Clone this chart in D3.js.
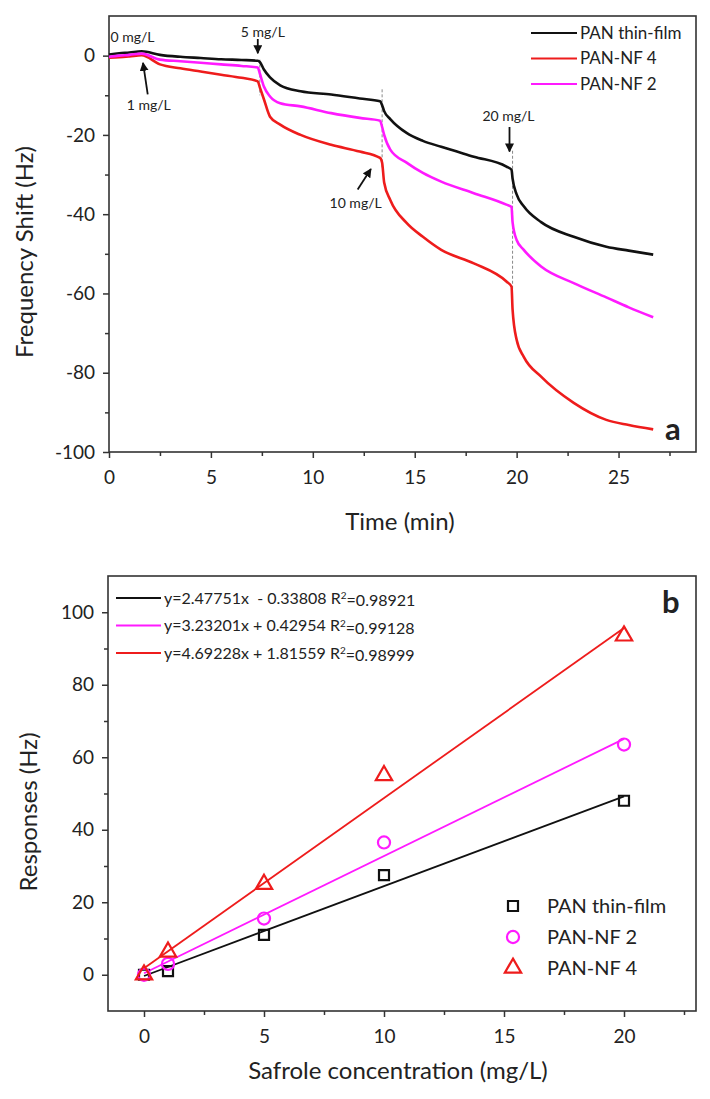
<!DOCTYPE html>
<html>
<head>
<meta charset="utf-8">
<script src="https://cdn.jsdelivr.net/npm/d3@7"></script>
<style>
  body { margin: 0; background: #fff; }
  text { font-family: Lato, "Open Sans", sans-serif; fill: #222; }
</style>
</head>
<body>
<svg id="fig" width="710" height="1099"></svg>
<script>
// ---- panel a: frequency shift vs time ----
var times = [0, 0.5, 1, 1.6, 2.5, 3.5, 4.5, 5.5, 6.5, 7.3, 7.4, 7.6, 7.9, 8.4, 9.4, 10.9, 12.3, 13.3,
             13.4, 13.5, 13.8, 14.6, 15.4, 16.3, 17.9, 19.5, 19.75, 19.8, 20.0, 20.35, 21.2, 22.8, 24.4, 25.5, 26.7];
var thinFilm = [0.3, 0.6, 0.8, 1.1, 0.2, -0.3, -0.6, -0.9, -1.1, -1.3, -1.6, -3.5, -5.5, -7.5, -9, -9.8, -10.8, -11.5,
                -12.5, -14, -16, -19.5, -21.5, -23, -25.5, -28, -28.8, -31, -35, -38, -42, -45.7, -48.2, -49.2, -50.2];
var nf4 = [-0.5, -0.4, -0.2, 0.1, -2.2, -3.2, -4, -4.8, -5.6, -6.5, -8, -11, -15.4, -17.4, -20, -22.5, -24.2, -25.8,
           -27, -32, -36.4, -42.2, -45.7, -49, -52.4, -57, -58.3, -64, -71.7, -76, -81, -87.6, -91.9, -93.2, -94.3];
var nf2 = [-0.3, 0, 0.2, 0.5, -1, -1.4, -1.8, -2.2, -2.6, -3, -4.5, -7.8, -10.3, -12, -12.8, -14.5, -15.7, -16.4,
           -18, -20, -23.7, -27, -29.6, -31.8, -34.7, -37.6, -38.2, -42, -46.5, -49, -53.2, -57.4, -61, -63.5, -66];

var seriesA = [
  { name: "PAN thin-film", colour: "#111", values: thinFilm },
  { name: "PAN-NF 4", colour: "#ee1c1c", values: nf4 },
  { name: "PAN-NF 2", colour: "#ff1aff", values: nf2 }
];

// injection steps (dashed guides) and labels
var stepTimes = [7.4, 13.4, 19.8];
var stepTop = [-1, -8.5, -24];
var stepBottom = [-10, -28.5, -59];
var doseLabels = ["0 mg/L", "1 mg/L", "5 mg/L", "10 mg/L", "20 mg/L"];
var doseTextT = [1.15, 1.95, 7.55, 12.1, 19.6];
var doseTextV = [3.5, -13.6, 4.8, -38.4, -16.4];
// arrows: [t1, v1, t2, v2] tail -> head (null for no arrow)
var doseArrows = [null, [1.9, -9.8, 1.67, -1.8], [7.3, 4.2, 7.3, 0.6], [12.2, -33.8, 12.85, -28.6], [19.65, -18.0, 19.65, -24.2]];

// ---- panel b: responses vs concentration ----
var conc = [0, 1, 5, 10, 20];
var respThin = [0, 1, 11, 27.5, 48];
var respNF2 = [0, 3, 15.5, 36.5, 63.5];
var respNF4 = [0, 6.3, 25, 55, 93.5];
var slopes = [2.47751, 3.23201, 4.69228];
var intercepts = [-0.33808, 0.42954, 1.81559];
var fitText = ["y=2.47751x  - 0.33808 R", "y=3.23201x + 0.42954 R", "y=4.69228x + 1.81559 R"];
var r2Text = ["=0.98921", "=0.99128", "=0.98999"];

var svg = d3.select("#fig");
var axisColour = "#333";

svg.append("defs").append("marker")
   .attr("id", "arrowhead")
   .attr("viewBox", "0 0 10 10")
   .attr("refX", 9).attr("refY", 5)
   .attr("markerWidth", 5).attr("markerHeight", 5)
   .attr("orient", "auto")
   .append("path").attr("d", "M0,0 L10,5 L0,10 z").attr("fill", "#111");

// draws a framed plot with major/minor ticks on left and bottom
function drawFrame(x, y, xMajor, xMinor, yMajor, yMinor) {
  var r = x.range(), b = y.range();
  var xa = d3.axisBottom(x).tickValues(xMajor).tickSize(6).tickSizeOuter(0).tickFormat(d3.format("d"));
  var xm = d3.axisBottom(x).tickValues(xMinor).tickSize(4).tickSizeOuter(0).tickFormat("");
  var ya = d3.axisLeft(y).tickValues(yMajor).tickSize(6).tickSizeOuter(0).tickFormat(function(d) { return d < 0 ? "-" + (-d) : d; });
  var ym = d3.axisLeft(y).tickValues(yMinor).tickSize(4).tickSizeOuter(0).tickFormat("");

  [xa, xm].forEach(function(ax) {
    var g = svg.append("g").attr("transform", "translate(0," + b[0] + ")").call(ax);
    g.select(".domain").remove();
    g.selectAll("line").attr("stroke", axisColour).attr("stroke-width", 1.5);
    g.selectAll("text").attr("font-size", "19px").attr("dy", "1.2em").attr("font-family", "Lato");
  });
  [ya, ym].forEach(function(ax) {
    var g = svg.append("g").attr("transform", "translate(" + r[0] + ",0)").call(ax);
    g.select(".domain").remove();
    g.selectAll("line").attr("stroke", axisColour).attr("stroke-width", 1.5);
    g.selectAll("text").attr("font-size", "19px").attr("x", -14).attr("font-family", "Lato");
  });
  svg.append("rect")
     .attr("x", r[0]).attr("y", b[1])
     .attr("width", r[1] - r[0]).attr("height", b[0] - b[1])
     .attr("fill", "none").attr("stroke", axisColour).attr("stroke-width", 1.6);
}

// ===================== panel a =====================
var xA = d3.scaleLinear().domain([0, 28.8]).range([109, 696]);
var yA = d3.scaleLinear().domain([-100, 10]).range([452, 16]);

drawFrame(xA, yA, [0, 5, 10, 15, 20, 25], [2.5, 7.5, 12.5, 17.5, 22.5, 27.5],
          [0, -20, -40, -60, -80, -100], [-10, -30, -50, -70, -90]);

// dashed step guides
stepTimes.forEach(function(t, i) {
  svg.append("line")
     .attr("x1", xA(t)).attr("x2", xA(t))
     .attr("y1", yA(stepTop[i])).attr("y2", yA(stepBottom[i]))
     .attr("stroke", "#888").attr("stroke-width", 1)
     .attr("stroke-dasharray", "3,2");
});

var lineA = d3.line()
  .x(function(d, i) { return xA(times[i]); })
  .y(function(d) { return yA(d); })
  .curve(d3.curveMonotoneX);

seriesA.forEach(function(s) {
  svg.append("path")
     .attr("d", lineA(s.values))
     .attr("fill", "none")
     .attr("stroke", s.colour)
     .attr("stroke-width", 2.6)
     .attr("stroke-linejoin", "round");
});

// dose annotations
doseLabels.forEach(function(lbl, i) {
  svg.append("text")
     .attr("x", xA(doseTextT[i])).attr("y", yA(doseTextV[i]))
     .attr("text-anchor", "middle")
     .attr("font-size", "14px")
     .text(lbl);
  var a = doseArrows[i];
  if (a) {
    svg.append("line")
       .attr("x1", xA(a[0])).attr("y1", yA(a[1]))
       .attr("x2", xA(a[2])).attr("y2", yA(a[3]))
       .attr("stroke", "#111").attr("stroke-width", 1.8)
       .attr("marker-end", "url(#arrowhead)");
  }
});

// legend a
seriesA.forEach(function(s, i) {
  var ly = 33 + i * 25.5;
  svg.append("line").attr("x1", 531).attr("x2", 577).attr("y1", ly).attr("y2", ly)
     .attr("stroke", s.colour).attr("stroke-width", 2.2);
  svg.append("text").attr("x", 580).attr("y", ly).attr("dy", "0.35em")
     .attr("font-size", "17px").text(s.name);
});

svg.append("text").attr("x", 665).attr("y", 440)
   .attr("font-size", "31px").attr("font-weight", "bold").attr("fill", "#000").text("a");

svg.append("text")
   .attr("transform", "translate(33,252) rotate(-90)")
   .attr("text-anchor", "middle").attr("font-size", "24px")
   .text("Frequency Shift (Hz)");
svg.append("text")
   .attr("x", 400).attr("y", 530)
   .attr("text-anchor", "middle").attr("font-size", "24px")
   .text("Time (min)");

// ===================== panel b =====================
var xB = d3.scaleLinear().domain([-1.5, 23]).range([108, 696]);
var yB = d3.scaleLinear().domain([-10, 110]).range([1011, 576]);

drawFrame(xB, yB, [0, 5, 10, 15, 20], [2.5, 7.5, 12.5, 17.5, 22.5],
          [0, 20, 40, 60, 80, 100], [10, 30, 50, 70, 90]);

var fitColours = ["#111", "#ff1aff", "#ee1c1c"];
var respSeries = [respThin, respNF2, respNF4];
var symbols = [d3.symbolSquare, d3.symbolCircle, d3.symbolTriangle];
var symbolSizes = [100, 115, 115];
var legendNames = ["PAN thin-film", "PAN-NF 2", "PAN-NF 4"];

// fit lines
slopes.forEach(function(m, i) {
  svg.append("line")
     .attr("x1", xB(0)).attr("y1", yB(intercepts[i]))
     .attr("x2", xB(20)).attr("y2", yB(m * 20 + intercepts[i]))
     .attr("stroke", fitColours[i]).attr("stroke-width", 1.8);
});

// measured points
respSeries.forEach(function(vals, i) {
  svg.selectAll(null).data(vals).enter().append("path")
     .attr("transform", function(d, j) { return "translate(" + xB(conc[j]) + "," + yB(d) + ")"; })
     .attr("d", d3.symbol().type(symbols[i]).size(symbolSizes[i]))
     .attr("fill", "none").attr("stroke", fitColours[i]).attr("stroke-width", 2.2);
});

// equation legend
fitText.forEach(function(t, i) {
  var ly = 598 + i * 27.5;
  svg.append("line").attr("x1", 116).attr("x2", 161).attr("y1", ly).attr("y2", ly)
     .attr("stroke", fitColours[i]).attr("stroke-width", 1.8);
  var tx = svg.append("text").attr("x", 164).attr("y", ly).attr("dy", "0.35em")
     .attr("font-size", "16px").attr("xml:space", "preserve");
  tx.append("tspan").text(t);
  tx.append("tspan").attr("dy", "-0.45em").attr("font-size", "10px").text("2");
  tx.append("tspan").attr("dy", "0.45em").text(r2Text[i]);
});

// symbol legend
legendNames.forEach(function(n, i) {
  var ly = 906 + i * 31;
  svg.append("path")
     .attr("transform", "translate(513," + ly + ")")
     .attr("d", d3.symbol().type(symbols[i]).size(symbolSizes[i]))
     .attr("fill", "none").attr("stroke", fitColours[i]).attr("stroke-width", 2.2);
  svg.append("text").attr("x", 547).attr("y", ly).attr("dy", "0.35em")
     .attr("font-size", "20px").text(n);
});

svg.append("text").attr("x", 662).attr("y", 613)
   .attr("font-size", "31px").attr("font-weight", "bold").attr("fill", "#000").text("b");

svg.append("text")
   .attr("transform", "translate(37,812) rotate(-90)")
   .attr("text-anchor", "middle").attr("font-size", "24px")
   .text("Responses (Hz)");
svg.append("text")
   .attr("x", 398).attr("y", 1079)
   .attr("text-anchor", "middle").attr("font-size", "24px")
   .text("Safrole concentration (mg/L)");
</script>
</body>
</html>
